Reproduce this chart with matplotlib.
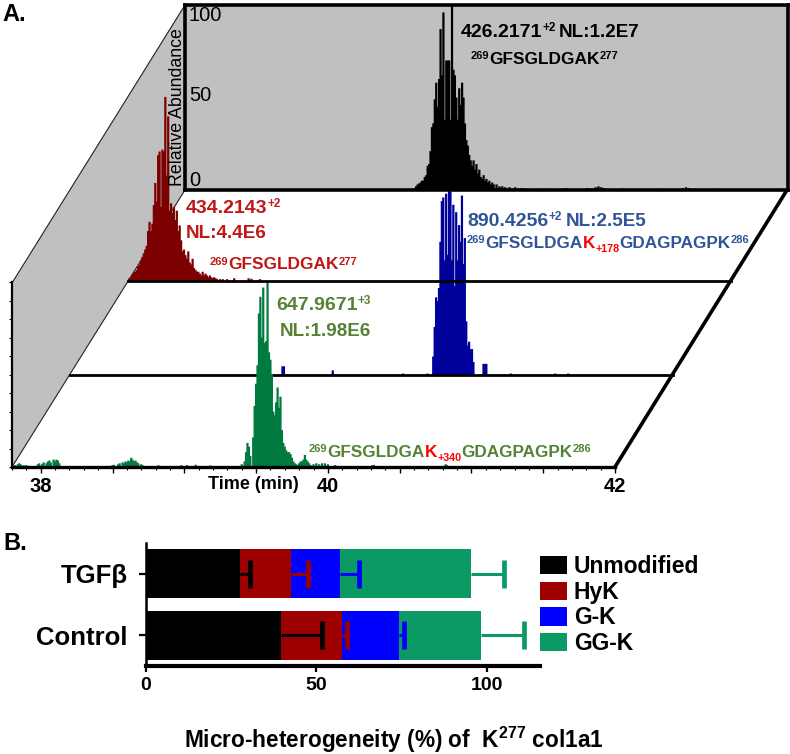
import matplotlib
matplotlib.use("Agg")
import matplotlib.pyplot as plt
from matplotlib.patches import Polygon
from matplotlib.ticker import MultipleLocator

plt.rcParams['font.family'] = 'Liberation Sans'
plt.rcParams['mathtext.fontset'] = 'custom'
plt.rcParams['mathtext.bf'] = 'Liberation Sans:bold'
plt.rcParams['mathtext.rm'] = 'Liberation Sans:bold'

# ---- Panel A: extracted ion chromatograms (time in min, relative abundance) ----
black_t = [39.40, 39.41, 39.42, 39.43, 39.44, 39.45, 39.46, 39.47, 39.48, 39.49, 39.50, 39.51, 39.52, 39.53,
           39.54, 39.55, 39.56, 39.57, 39.58, 39.59, 39.60, 39.61, 39.62, 39.63, 39.64, 39.65, 39.66, 39.67,
           39.68, 39.69, 39.70, 39.71, 39.72, 39.73, 39.74, 39.75, 39.76, 39.77, 39.78, 39.79, 39.80, 39.81,
           39.82, 39.83, 39.84, 39.85, 39.86, 39.87, 39.88, 39.89, 39.90, 39.91, 39.92, 39.93, 39.94, 39.95,
           39.97, 39.99, 40.01, 40.03, 40.06, 40.10, 40.15, 40.30, 40.45, 40.60, 40.66, 40.68, 40.70, 40.72,
           40.85, 41.10, 41.27, 41.29, 41.31, 41.50, 41.70]
black_h = [1, 2, 3, 3.5, 4, 5, 5, 7, 8, 13, 14, 21, 34, 36,
           49, 58, 45, 60, 87, 62, 96, 38, 70, 70, 70, 38, 100, 65,
           62, 50, 38, 55, 46, 58, 50, 36, 27, 24, 19, 16, 13, 16,
           11, 14, 9, 11, 7, 6, 8, 5, 6, 4, 5, 3, 4, 3,
           3, 2, 2, 1.5, 1.5, 1.5, 1, 0.8, 1, 1, 1.5, 2, 1.5, 1,
           0.8, 0.7, 1, 1.5, 1, 0.6, 0.5]

red_t = [37.80, 37.81, 37.82, 37.83, 37.84, 37.85, 37.86, 37.87, 37.88, 37.89, 37.90, 37.91, 37.92, 37.93,
         37.94, 37.95, 37.96, 37.97, 37.98, 37.99, 38.00, 38.01, 38.02, 38.03, 38.04, 38.05, 38.06, 38.07,
         38.08, 38.09, 38.10, 38.11, 38.12, 38.13, 38.14, 38.15, 38.16, 38.17, 38.18, 38.19, 38.20, 38.21,
         38.22, 38.23, 38.24, 38.25, 38.26, 38.27, 38.28, 38.29, 38.30, 38.31, 38.32, 38.33, 38.34, 38.35,
         38.36, 38.37, 38.38, 38.39, 38.40, 38.41, 38.42, 38.44, 38.46, 38.49, 38.54, 38.64, 38.66, 38.72]
red_h = [1, 1.5, 2, 3.5, 4.5, 5, 6, 8, 9, 11, 13, 15, 17, 19,
         27, 32, 27, 31, 41, 53, 43, 68, 70, 40, 71, 70, 99.5, 57,
         89, 38, 42, 37, 40, 33, 38, 27, 30, 22, 16, 17, 14, 12,
         16, 10, 9, 12, 7, 6, 5, 5, 4, 3, 5, 3, 4, 3,
         2, 3, 2, 1.5, 2, 1.5, 1, 1, 1, 1, 1.5, 1.5, 1.2, 1]

blue_t = [39.28, 39.29, 39.63, 40.12, 40.29, 40.33, 40.34, 40.35, 40.36, 40.37, 40.38, 40.39, 40.40, 40.41,
          40.42, 40.43, 40.44, 40.45, 40.46, 40.47, 40.48, 40.49, 40.50, 40.51, 40.52, 40.53, 40.54, 40.55,
          40.56, 40.57, 40.58, 40.59, 40.60, 40.61, 40.68, 40.69, 40.70, 40.87, 41.18, 41.27]
blue_h = [4.7, 4.7, 2.5, 0.8, 0.8, 10, 26, 42, 40, 47, 72, 94, 96, 62,
          98, 65, 100, 99, 62, 92, 48, 88, 62, 81, 72, 97, 60, 74,
          29, 16, 18, 14, 14, 7, 6, 6, 6, 0.8, 0.8, 0.8]

green_t = [37.82, 37.84, 37.85, 37.86, 37.88, 37.90, 37.98, 37.99, 38.01, 38.02, 38.04, 38.05, 38.06, 38.07,
           38.09, 38.10, 38.11, 38.12, 38.13, 38.50, 38.51, 38.54, 38.55, 38.57, 38.58, 38.59, 38.60, 38.61,
           38.62, 38.63, 38.64, 38.65, 38.66, 38.67, 38.68, 38.70, 38.71, 38.82, 38.98, 39.02, 39.08, 39.18,
           39.40, 39.42, 39.43, 39.44, 39.45, 39.46, 39.48, 39.49, 39.50, 39.51, 39.52, 39.53, 39.54, 39.55,
           39.56, 39.57, 39.58, 39.59, 39.60, 39.61, 39.62, 39.63, 39.64, 39.65, 39.66, 39.67, 39.68, 39.69,
           39.70, 39.71, 39.72, 39.73, 39.74, 39.75, 39.76, 39.77, 39.78, 39.79, 39.80, 39.81, 39.82, 39.83,
           39.84, 39.85, 39.86, 39.87, 39.88, 39.90, 39.92, 39.94, 39.96, 39.98, 40.00, 40.05, 40.31, 40.32,
           40.82, 40.83]
green_h = [1, 1.5, 2, 1.5, 1, 1, 1.5, 2, 1.5, 2.5, 2, 3, 3.5, 2.5,
           4, 3, 4, 3.5, 2, 1, 1.2, 1.5, 2, 2.5, 2, 3, 2.5, 3.5,
           3, 5, 4, 3, 3.5, 2.5, 2, 1.5, 1, 1, 1, 1, 1.2, 0.8,
           1.5, 3, 8, 13, 11, 6, 16, 33, 45, 55, 83, 92, 70, 97,
           67, 68, 100, 62, 58, 50, 30, 28, 35, 43, 32, 38, 20, 13,
           11, 9, 8, 8, 7, 5, 3, 2, 1.5, 1, 2, 3, 3, 4,
           6.5, 4, 3, 2, 1, 1.5, 2, 1.5, 2, 2, 1.5, 1, 1, 1.2,
           1.5, 1]

time_ticks = [38, 38.5, 39, 39.5, 40, 40.5, 41, 41.5, 42]
time_tick_labels = ['38', '', '', '', '40', '', '', '', '42']
abundance_ticks = [0, 10, 20, 30, 40, 50, 60, 70, 80, 90, 100]

# ---- Panel B: stacked micro-heterogeneity bars ----
conditions = ['Control', 'TGFβ']
species = ['Unmodified', 'HyK', 'G-K', 'GG-K']
species_values = [[39.7, 27.6], [17.8, 14.9], [16.7, 14.4], [24.2, 38.4]]
species_errors = [[11.9, 2.8], [1.6, 5.1], [1.4, 5.7], [12.4, 9.6]]
pct_ticks = [0, 50, 100]

BLACK, DARK_RED, TRACE_BLUE, TRACE_GREEN = '#000000', '#7d0000', '#00009a', '#007a3e'
TXT_RED, TXT_BLUE, TXT_GREEN, PURE_RED = '#c01818', '#2f5597', '#558235', '#ff0000'
bar_colors = ['#000000', '#9c0000', '#0000ff', '#0b9a64']
GREY = '#c0c0c0'

W, H = 790, 754
fig = plt.figure(figsize=(W / 100, H / 100), dpi=100)


def px_axes(left, bottom, width, height, zorder):
    # axes placed by its pixel box, y counted from the top of the image
    ax = fig.add_axes([left / W, 1 - bottom / H, width / W, height / H], zorder=zorder)
    return ax


# background with the slanted grey wall
bg = px_axes(0, H, W, H, 0)
bg.set_xlim(0, W)
bg.set_ylim(H, 0)
bg.axis('off')
bg.add_patch(Polygon([(185, 5), (12, 283), (12, 467), (185, 190)], facecolor=GREY, edgecolor='none'))
bg.plot([185, 12], [5, 283], color='#222222', lw=0.8)
bg.plot([185, 12], [190, 467], color='#222222', lw=0.8)


def trace_axes(left, bottom, t, h, color, zorder, lw=1.6):
    ax = px_axes(left, bottom, 603, 185, zorder)
    ax.patch.set_alpha(0)
    ax.set_xlim(37.8, 42.0)
    ax.set_ylim(0, 100)
    sticks = ax.vlines(t, 0, h, color=color, lw=lw)
    sticks.set_snap(False)  # snapping leaves white gaps between the scans
    ax.set_xticks([])
    ax.set_yticks([])
    for s in ['top', 'left', 'right']:
        ax.spines[s].set_visible(False)
    ax.spines['bottom'].set_linewidth(2.0)
    return ax


ax_blue = trace_axes(70, 375, blue_t, blue_h, TRACE_BLUE, 1)
ax_green = trace_axes(12, 467, green_t, green_h, TRACE_GREEN, 2)
ax_red = trace_axes(128, 281, red_t, red_h, DARK_RED, 3)
ax_black = trace_axes(185, 190, black_t, black_h, BLACK, 4)

# back panel gets the full thick frame
ax_black.patch.set_alpha(1)
ax_black.patch.set_facecolor(GREY)
for s in ax_black.spines.values():
    s.set_visible(True)
    s.set_linewidth(2.6)

# front panel carries the real axes
ax_green.spines['left'].set_visible(True)
ax_green.spines['left'].set_linewidth(1.6)
ax_green.spines['bottom'].set_linewidth(2.4)
ax_green.set_xticks(time_ticks)
ax_green.set_xticklabels(time_tick_labels, fontsize=14.5, fontweight='bold')
ax_green.xaxis.set_minor_locator(MultipleLocator(0.1))
ax_green.tick_params(axis='x', which='major', length=4, width=1, pad=3.5)
ax_green.tick_params(axis='x', which='minor', length=2.5, width=0.8)
ax_green.set_yticks(abundance_ticks)
ax_green.set_yticklabels([])
ax_green.tick_params(axis='y', length=2.5, width=0.8)

# top layer for annotations
fg = px_axes(0, H, W, H, 10)
fg.patch.set_alpha(0)
fg.set_xlim(0, W)
fg.set_ylim(H, 0)
fg.axis('off')
fg.plot([787, 615], [190, 467], color='black', lw=2.6, solid_capstyle='round')

renderer = fig.canvas.get_renderer()


def rich_text(x, y, parts):
    # parts: (text, colour, size, baseline shift in px); each starts where the last ended
    for s, color, size, dy in parts:
        t = fg.text(x, y + dy, s, color=color, fontsize=size, fontweight='bold', va='baseline', ha='left')
        x += t.get_window_extent(renderer).width


fg.text(2, 21, 'A.', fontsize=17, fontweight='bold', va='baseline')
fg.text(3, 550, 'B.', fontsize=17, fontweight='bold', va='baseline')

# y labels of the back panel
fg.text(189, 21, '100', fontsize=14.5, va='baseline')
fg.text(189, 101, '50', fontsize=14.5, va='baseline')
fg.text(189, 186, '0', fontsize=14.5, va='baseline')
fg.text(178, 107, 'Relative Abundance', fontsize=12.8, rotation=90, va='center', ha='center')
fg.text(253, 489, 'Time (min)', fontsize=13, fontweight='bold', va='baseline', ha='center')

# black trace labels
rich_text(461, 37, [('426.2171', BLACK, 14, 0), ('+2', BLACK, 8.5, -6)])
rich_text(559, 37, [('NL:1.2E7', BLACK, 13.6, 0)])
rich_text(471, 64, [('269', BLACK, 8, -5), ('GFSGLDGAK', BLACK, 12.4, 0), ('277', BLACK, 8, -5)])

# red trace labels
rich_text(186, 213, [('434.2143', TXT_RED, 14, 0), ('+2', TXT_RED, 8.5, -6)])
rich_text(186, 238, [('NL:4.4E6', TXT_RED, 13.6, 0)])
rich_text(210, 269, [('269', TXT_RED, 8, -4), ('GFSGLDGAK', TXT_RED, 12.4, 0), ('277', TXT_RED, 8, -4)])

# blue trace labels
rich_text(467, 226, [('890.4256', TXT_BLUE, 14, 0), ('+2', TXT_BLUE, 8.5, -6)])
rich_text(566, 226, [('NL:2.5E5', TXT_BLUE, 13.6, 0)])
rich_text(467, 248, [('269', TXT_BLUE, 8, -5), ('GFSGLDGA', TXT_BLUE, 12.3, 0), ('K', PURE_RED, 12.3, 0),
                     ('+178', PURE_RED, 7.7, 4), ('GDAGPAGPK', TXT_BLUE, 12.3, 0), ('286', TXT_BLUE, 8, -5)])

# green trace labels
rich_text(276, 310, [('647.9671', TXT_GREEN, 14, 0), ('+3', TXT_GREEN, 8.5, -6)])
rich_text(280, 336, [('NL:1.98E6', TXT_GREEN, 13.6, 0)])
rich_text(309, 457, [('269', TXT_GREEN, 8, -5), ('GFSGLDGA', TXT_GREEN, 12.3, 0), ('K', PURE_RED, 12.3, 0),
                     ('+340', PURE_RED, 7.7, 4), ('GDAGPAGPK', TXT_GREEN, 12.3, 0), ('286', TXT_GREEN, 8, -5)])

# ---- Panel B ----
ax_b = px_axes(146, 666, 394, 123, 5)
ax_b.patch.set_alpha(0)
y_pos = list(range(len(conditions)))
left = [0.0] * len(conditions)
handles = []
ends = []
for name, vals, col in zip(species, species_values, bar_colors):
    handles.append(ax_b.barh(y_pos, vals, left=left, height=0.8, color=col, label=name))
    left = [a + b for a, b in zip(left, vals)]
    ends.append(left)

# error bars start at the end of each stacked segment, upper side only
for seg_end, err, col in zip(ends, species_errors, bar_colors):
    for y, x, e in zip(y_pos, seg_end, err):
        _, caps, _ = ax_b.errorbar(x, y, xerr=[[0], [e]], color=col, elinewidth=2.2, capsize=10, capthick=3.4)
        caps[0].set_visible(False)

ax_b.set_xlim(0, 115.6)
ax_b.set_ylim(-0.5, 1.5)
ax_b.set_yticks(y_pos)
ax_b.set_yticklabels(conditions, fontsize=18.5, fontweight='bold')
ax_b.set_xticks(pct_ticks)
ax_b.set_xticklabels([str(v) for v in pct_ticks], fontsize=14, fontweight='bold')
ax_b.tick_params(axis='x', length=4, width=1.6, pad=4)
ax_b.tick_params(axis='y', length=5, width=1.6, pad=8)
ax_b.spines['top'].set_visible(False)
ax_b.spines['right'].set_visible(False)
ax_b.spines['left'].set_linewidth(1.8)
ax_b.spines['bottom'].set_linewidth(3)
ax_b.set_xlabel('Micro-heterogeneity (%) of  K$^{\\mathbf{277}}$ col1a1', fontsize=16.3, fontweight='bold', va='center')
ax_b.xaxis.set_label_coords(0.63, -0.6)

ax_b.legend(handles, species, loc='upper left', bbox_to_anchor=(540 / W, 1 - 555 / H), bbox_transform=fig.transFigure,
            frameon=False, prop={'size': 16.5, 'weight': 'bold', 'family': 'Liberation Sans'}, borderpad=0, borderaxespad=0,
            handlelength=1.17, handleheight=0.85, handletextpad=0.3, labelspacing=0.12)

fig.savefig('out.png', dpi=100)
